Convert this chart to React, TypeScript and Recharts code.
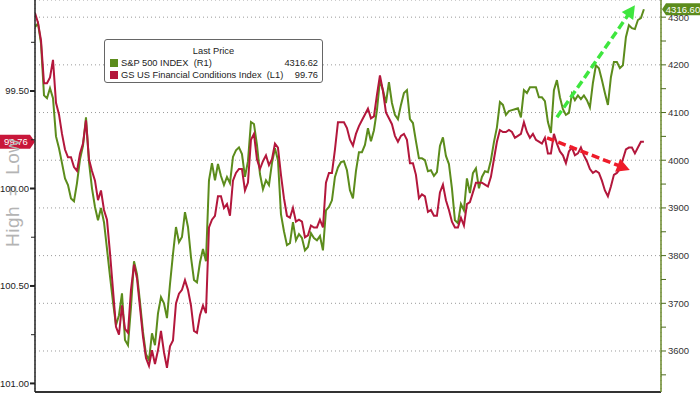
import React from 'react';
import { LineChart, Line, XAxis, YAxis, CartesianGrid, ReferenceLine } from 'recharts';

// S&P 500 index (right axis)
const spx = [
  4279, 4287, 4245, 4136, 4130, 4151, 4130, 4050, 4025, 3994,
  3962, 3948, 3920, 3914, 3952, 4002, 4030, 4090, 3996, 3941,
  3902, 3874, 3900, 3870, 3814, 3757, 3703, 3654, 3675, 3721,
  3623, 3612, 3692, 3788, 3761, 3703, 3640, 3593, 3581, 3637,
  3612, 3679, 3713, 3700, 3669, 3740, 3803, 3860, 3828, 3839,
  3891, 3860, 3797, 3749, 3744, 3786, 3814, 3788, 3958, 3994,
  3958, 3992, 3967, 3948, 3965, 3952, 4007, 4021, 4027, 4013,
  3965, 3998, 4080, 4076, 4032, 3971, 3939, 3958, 3948, 3994,
  4025, 4000, 3887, 3851, 3822, 3826, 3870, 3832, 3845, 3837,
  3811, 3818, 3847, 3837, 3832, 3841, 3811, 3895, 3902, 3916,
  3965, 3985, 3996, 3998, 3979, 3937, 3920, 3977, 4017, 4017,
  4032, 4067, 4040, 4063, 4105, 4168, 4147, 4120, 4164, 4120,
  4095, 4086, 4116, 4141, 4147, 4086, 4078, 4040, 4004, 4004,
  4000, 3977, 3979, 3967, 3975, 4030, 4048, 4009, 3992, 3941,
  3874, 3868, 3908, 3895, 3962, 3931, 3973, 3983, 3941, 3965,
  3977, 3975, 4000, 4038, 4069, 4122, 4116, 4095, 4103, 4105,
  4107, 4109, 4090, 4147, 4141, 4153, 4153, 4153, 4132, 4132,
  4124, 4080, 4057, 4147, 4168, 4132, 4107, 4095, 4099, 4139,
  4126, 4136, 4128, 4136, 4126, 4111, 4162, 4199, 4193, 4168,
  4141, 4116, 4174, 4206, 4206, 4193, 4199, 4258, 4283, 4277,
  4275, 4294, 4298, 4316.62,
];

// GS US Financial Conditions Index (left axis, inverted)
const fci = [
  99.10, 99.15, 99.24, 99.46, 99.46, 99.43, 99.34, 99.56, 99.62, 99.72,
  99.80, 99.84, 99.84, 99.89, 99.91, 99.82, 99.77, 99.65, 99.85, 99.91,
  99.96, 100.06, 100.01, 100.11, 100.16, 100.33, 100.52, 100.71, 100.75, 100.60,
  100.72, 100.74, 100.52, 100.39, 100.46, 100.61, 100.76, 100.87, 100.91, 100.83,
  100.90, 100.83, 100.73, 100.84, 100.92, 100.81, 100.78, 100.59, 100.54, 100.52,
  100.47, 100.52, 100.60, 100.73, 100.74, 100.65, 100.60, 100.64, 100.20, 100.16,
  100.14, 100.04, 100.04, 100.10, 100.08, 100.14, 99.96, 99.92, 99.90, 99.90,
  100.01, 99.97, 99.75, 99.72, 99.85, 99.90, 99.86, 99.83, 99.88, 99.85,
  99.77, 99.79, 99.93, 100.05, 100.14, 100.15, 100.10, 100.17, 100.16, 100.17,
  100.25, 100.24, 100.19, 100.20, 100.20, 100.16, 100.20, 99.97, 99.92, 99.92,
  99.80, 99.66, 99.66, 99.66, 99.69, 99.75, 99.78, 99.72, 99.68, 99.65,
  99.62, 99.59, 99.64, 99.63, 99.52, 99.42, 99.50, 99.61, 99.64, 99.67,
  99.73, 99.76, 99.73, 99.72, 99.75, 99.87, 99.87, 99.93, 100.05, 100.03,
  100.04, 100.12, 100.11, 100.14, 100.14, 100.02, 99.98, 100.06, 100.11, 100.17,
  100.20, 100.20, 100.15, 100.19, 100.08, 100.07, 100.02, 99.97, 99.97, 99.97,
  99.98, 99.99, 99.94, 99.85, 99.76, 99.70, 99.71, 99.71, 99.70, 99.71,
  99.74, 99.73, 99.72, 99.66, 99.71, 99.74, 99.72, 99.75, 99.76, 99.77,
  99.74, 99.82, 99.82, 99.72, 99.77, 99.81, 99.83, 99.87, 99.81, 99.79,
  99.83, 99.82, 99.79, 99.83, 99.86, 99.90, 99.92, 99.91, 99.92, 99.96,
  100.01, 100.04, 99.99, 99.93, 99.92, 99.90, 99.85, 99.80, 99.79, 99.79,
  99.82, 99.79, 99.76, 99.76,
];

// month boundaries (trading-day index) used for vertical gridlines
const monthBounds = [9.7, 30.7, 50.7, 72, 92.7, 113.7, 133, 154.7, 174, 196];
const xDomainMax = 208.7;

const leftTicks = [99.25, 99.5, 99.75, 100, 100.25, 100.5, 100.75, 101];
const leftLabels = [99.5, 100, 100.5, 101];
const rightTicks = [3550, 3600, 3650, 3700, 3750, 3800, 3850, 3900, 3950, 4000, 4050, 4100, 4150, 4200, 4250, 4300];
const rightLabels = [3600, 3700, 3800, 3900, 4000, 4100, 4200, 4300];

const lastSpxTag = 4316.6;
const lastFciTag = 99.76;

// trend arrows: [startIndex, startValue, endIndex, endValue]
const greenArrow = [174, 4090, 200, 4325];
const redArrow = [170.7, 99.74, 198.3, 99.905];

const data = spx.map((v, i) => ({ i, spx: v, fci: fci[i] }));

const FONT = '"Liberation Sans", Arial, sans-serif';
const GREEN = '#5c8c1c';
const RED = '#b3173c';

const LeftTick = (props: any) => {
  const { x, y, payload } = props;
  const major = leftLabels.includes(payload.value);
  return (
    <g>
      <line x1={x - (major ? 5 : 4)} x2={x} y1={y} y2={y} stroke="#222" strokeWidth={major ? 2 : 1} />
      {major && (
        <text x={x - 6} y={y} dy={3.3} textAnchor="end" fontSize={9.5} fill="#222" fontFamily={FONT}>
          {payload.value.toFixed(2)}
        </text>
      )}
    </g>
  );
};

const makeArrow = (color: string) => (p: any) => {
  const { x1, y1, x2, y2 } = p;
  const dx = x2 - x1;
  const dy = y2 - y1;
  const len = Math.hypot(dx, dy) || 1;
  const ux = dx / len;
  const uy = dy / len;
  const head = 13;
  const hw = 7;
  const bx = x2 - ux * head;
  const by = y2 - uy * head;
  return (
    <g>
      <line x1={x1} y1={y1} x2={bx + ux * 2} y2={by + uy * 2} stroke={color} strokeWidth={3.5} strokeDasharray="8 4" />
      <polygon points={`${x2},${y2} ${bx - uy * hw},${by + ux * hw} ${bx + uy * hw},${by - ux * hw}`} fill={color} />
    </g>
  );
};

const LeftTag = (props: any) => {
  const vb = props.viewBox || {};
  const y = vb.y;
  const r = vb.x;
  return (
    <g>
      <path d={`M${r - 35},${y - 7} L${r - 5},${y - 7} L${r},${y} L${r - 5},${y + 7} L${r - 35},${y + 7} Z`} fill="#c8163a" />
      <text x={r - 19} y={y} dy={3.4} textAnchor="middle" fontSize={9.5} fill="#fff" fontFamily={FONT}>
        {lastFciTag.toFixed(2)}
      </text>
    </g>
  );
};

const RightTag = (props: any) => {
  const vb = props.viewBox || {};
  const y = vb.y;
  const l = vb.x + vb.width;
  return (
    <g>
      <path d={`M${l + 1},${y} L${l + 5},${y - 6} L${l + 40},${y - 6} L${l + 40},${y + 6} L${l + 5},${y + 6} Z`} fill={GREEN} />
      <text x={l + 22} y={y} dy={3.4} textAnchor="middle" fontSize={9.5} fill="#fff" fontFamily={FONT}>
        {lastSpxTag.toFixed(2)}
      </text>
    </g>
  );
};

const SideLabel = (props: any) => {
  const vb = props.viewBox || {};
  const x = vb.x + 19;
  const y = vb.y + 247;
  return (
    <text x={x} y={y} transform={`rotate(-90 ${x} ${y})`} fontSize={19} fill="#b4b4b4" fontFamily={FONT} wordSpacing={4} letterSpacing={0.5}>
      High = Low
    </text>
  );
};

export default function App() {
  return (
    <div style={{ position: 'fixed', left: 0, top: 0, width: 700, height: 394, background: '#fff', fontFamily: FONT }}>
      <LineChart width={700} height={394} data={data} margin={{ top: 0, right: 0, bottom: 0, left: 0 }}>
        <CartesianGrid yAxisId="grid" stroke="#9a9a9a" strokeDasharray="1 3" />
        <XAxis
          dataKey="i"
          type="number"
          domain={[0, xDomainMax]}
          ticks={monthBounds}
          tick={false}
          tickLine={false}
          height={2}
          axisLine={{ stroke: '#333', strokeWidth: 2 }}
          allowDataOverflow
        />
        <YAxis
          yAxisId="left"
          orientation="left"
          reversed
          domain={[99.033, 101.044]}
          ticks={leftTicks}
          width={35}
          tickSize={0}
          tickMargin={0}
          tickLine={false}
          tick={<LeftTick />}
          axisLine={{ stroke: '#222', strokeWidth: 1.5 }}
          allowDataOverflow
          interval={0}
          label={<SideLabel />}
        />
        <YAxis
          yAxisId="right"
          orientation="right"
          domain={[3514, 4336]}
          ticks={rightTicks}
          width={39}
          tickSize={5}
          tickMargin={2}
          tickLine={{ stroke: '#4d6b1e' }}
          tick={{ fontSize: 9.5, fill: '#333', fontFamily: FONT }}
          tickFormatter={(v: number) => (rightLabels.includes(v) ? String(v) : '')}
          axisLine={{ stroke: '#6a8a2a', strokeWidth: 1.5 }}
          allowDataOverflow
          interval={0}
        />
        <YAxis yAxisId="grid" orientation="left" hide width={0} domain={[3514, 4336]} ticks={rightLabels} allowDataOverflow />
        <Line yAxisId="right" type="linear" dataKey="spx" stroke={GREEN} strokeWidth={2} dot={false} isAnimationActive={false} />
        <Line yAxisId="left" type="linear" dataKey="fci" stroke={RED} strokeWidth={2} dot={false} isAnimationActive={false} />
        <ReferenceLine
          yAxisId="right"
          segment={[{ x: greenArrow[0], y: greenArrow[1] }, { x: greenArrow[2], y: greenArrow[3] }]}
          shape={makeArrow('#3ee63e')}
        />
        <ReferenceLine
          yAxisId="left"
          segment={[{ x: redArrow[0], y: redArrow[1] }, { x: redArrow[2], y: redArrow[3] }]}
          shape={makeArrow('#ee1c2a')}
        />
        <ReferenceLine yAxisId="left" y={lastFciTag} stroke="none" label={<LeftTag />} />
        <ReferenceLine yAxisId="right" y={lastSpxTag} stroke="none" label={<RightTag />} />
      </LineChart>
      <div
        style={{
          position: 'absolute',
          left: 104,
          top: 39,
          width: 217,
          height: 42,
          border: '1px solid #666',
          borderRadius: 3,
          background: '#fff',
          fontSize: 9.3,
          color: '#222',
          lineHeight: '12px',
          fontFamily: FONT,
        }}
      >
        <div style={{ textAlign: 'center', marginTop: 5 }}>Last Price</div>
        <div style={{ position: 'relative', height: 12 }}>
          <span style={{ position: 'absolute', left: 5, top: 2, width: 8, height: 8, background: GREEN }} />
          <span style={{ position: 'absolute', left: 16, whiteSpace: 'pre' }}>{'S&P 500 INDEX  (R1)'}</span>
          <span style={{ position: 'absolute', right: 4 }}>{spx[spx.length - 1].toFixed(2)}</span>
        </div>
        <div style={{ position: 'relative', height: 12 }}>
          <span style={{ position: 'absolute', left: 5, top: 2, width: 8, height: 8, background: RED }} />
          <span style={{ position: 'absolute', left: 16, whiteSpace: 'pre' }}>{'GS US Financial Conditions Index  (L1)'}</span>
          <span style={{ position: 'absolute', right: 4 }}>{fci[fci.length - 1].toFixed(2)}</span>
        </div>
      </div>
    </div>
  );
}
